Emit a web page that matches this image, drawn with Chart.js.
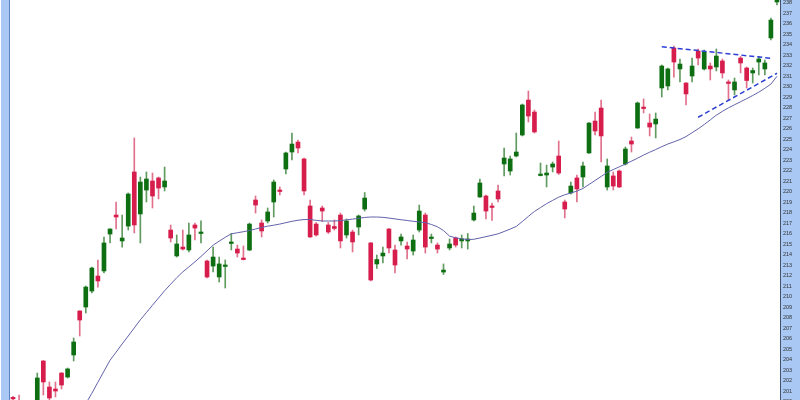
<!DOCTYPE html>
<html>
<head>
<meta charset="utf-8">
<script src="https://cdn.jsdelivr.net/npm/chart.js@4.4.0/dist/chart.umd.min.js"></script>
<style>
html, body { margin: 0; padding: 0; background: #fff; }
canvas { display: block; }
</style>
</head>
<body>
<canvas id="stockChart" width="800" height="400"></canvas>
<script>
// daily OHLC
const opens = [200.35, 200.0, 199.2, 199.5, 199.8, 203.86, 201.38, 201.19, 202.71, 202.33,
  204.43, 208.62, 209.0, 210.52, 211.95, 212.43, 215.95, 217.76, 215.29, 216.71,
  221.86, 217.86, 220.14, 221.0, 221.29, 220.43, 216.33, 213.86, 214.71, 214.43,
  216.81, 216.0, 213.38, 212.9, 211.86, 212.86, 215.05, 214.52, 213.62, 214.43,
  219.19, 217.0, 217.19, 219.0, 220.1, 222.14, 223.76, 224.71, 223.1, 218.62,
  216.9, 218.43, 216.81, 216.67, 217.76, 215.86, 216.14, 216.62, 218.33, 215.1,
  213.1, 213.86, 216.43, 214.43, 215.29, 214.81, 214.33, 216.33, 217.76, 215.52,
  214.9, 212.33, 214.62, 215.57, 215.29, 215.29, 217.29, 219.48, 219.57, 218.57,
  220.05, 222.62, 221.95, 223.38, 225.38, 228.71, 227.57, 221.52, 221.57, 222.33,
  223.38, 219.0, 219.86, 221.29, 221.38, 223.67, 226.71, 227.95, 220.43, 221.48,
  221.95, 222.62, 224.81, 226.05, 228.0, 226.52, 226.43, 229.86, 230.05, 233.67,
  231.67, 230.33, 231.0, 233.38, 231.67, 231.95, 231.86, 232.43, 230.43, 229.67,
  232.71, 231.76, 231.29, 232.33, 231.67, 234.62, 238.05];
const highs = [200.5, 200.6, 199.9, 200.0, 202.71, 203.9, 201.86, 201.86, 202.75, 203.19,
  206.05, 208.65, 211.0, 212.8, 213.48, 215.67, 216.45, 219.0, 217.76, 219.86,
  225.1, 221.38, 221.86, 221.76, 221.38, 222.33, 216.81, 215.86, 216.33, 217.0,
  217.0, 217.2, 213.48, 214.71, 213.76, 213.48, 216.0, 214.9, 214.81, 217.0,
  219.57, 217.29, 218.43, 221.1, 220.43, 223.76, 225.57, 224.9, 223.19, 219.19,
  217.05, 218.62, 217.05, 217.29, 217.95, 217.38, 216.33, 217.76, 219.9, 215.14,
  213.95, 214.71, 216.48, 214.9, 215.95, 215.19, 215.86, 218.71, 217.95, 215.95,
  215.1, 213.1, 215.48, 215.67, 215.86, 216.0, 218.62, 221.19, 219.67, 218.9,
  220.62, 224.14, 223.38, 225.57, 228.33, 229.57, 227.76, 222.71, 222.52, 222.81,
  224.81, 219.19, 220.9, 221.57, 222.81, 226.57, 227.57, 228.71, 223.1, 221.86,
  222.05, 224.24, 225.19, 228.52, 228.81, 227.38, 227.48, 232.05, 231.76, 233.86,
  232.62, 230.38, 232.71, 233.57, 233.48, 232.24, 233.57, 232.62, 230.62, 230.81,
  232.86, 231.86, 231.76, 232.86, 232.52, 236.52, 238.4];
const lows = [200.0, 199.3, 198.8, 199.0, 199.5, 200.62, 200.1, 200.43, 201.19, 202.24,
  203.86, 206.24, 208.43, 210.33, 210.9, 212.24, 215.1, 216.43, 214.71, 216.33,
  216.05, 215.1, 219.0, 218.43, 219.29, 220.05, 215.19, 213.76, 214.43, 214.24,
  215.38, 215.1, 211.76, 212.33, 211.38, 210.81, 214.43, 213.76, 213.48, 214.36,
  217.95, 215.67, 217.0, 217.57, 219.67, 221.67, 223.0, 223.67, 219.67, 215.62,
  215.76, 217.14, 216.0, 216.33, 214.62, 215.57, 214.24, 215.86, 218.14, 211.48,
  212.67, 213.19, 214.14, 212.24, 214.9, 213.57, 213.95, 216.14, 214.14, 215.1,
  214.14, 212.1, 214.43, 214.71, 214.62, 214.52, 217.19, 219.43, 217.38, 217.24,
  219.0, 221.48, 221.57, 223.29, 225.29, 226.62, 225.57, 221.48, 220.43, 221.86,
  221.62, 217.48, 219.76, 219.0, 220.43, 223.62, 225.38, 222.81, 220.14, 220.14,
  220.38, 222.52, 223.76, 226.0, 227.48, 225.29, 225.1, 229.0, 229.67, 230.9,
  230.43, 228.24, 230.43, 232.05, 231.57, 230.62, 231.48, 230.81, 228.71, 229.19,
  231.29, 229.86, 230.33, 231.1, 231.1, 234.43, 237.76];
const closes = [200.25, 199.6, 199.7, 199.8, 202.24, 201.86, 200.33, 201.0, 201.57, 203.1,
  205.67, 207.76, 210.9, 212.71, 211.48, 215.1, 216.43, 217.57, 215.57, 219.76,
  216.81, 220.9, 221.19, 219.57, 220.33, 221.0, 215.57, 215.0, 214.52, 215.86,
  216.52, 216.1, 211.86, 213.76, 213.1, 212.95, 215.15, 214.14, 213.52, 216.9,
  218.71, 216.24, 218.05, 220.9, 220.0, 223.67, 224.52, 224.14, 220.05, 215.67,
  215.86, 218.14, 216.14, 216.48, 215.29, 217.19, 215.19, 217.67, 219.38, 211.57,
  213.52, 214.14, 214.62, 213.0, 215.67, 214.52, 215.38, 218.14, 214.71, 215.62,
  214.52, 212.52, 215.0, 214.9, 215.48, 215.48, 217.95, 220.81, 218.14, 218.48,
  219.29, 223.19, 223.1, 223.76, 228.24, 227.19, 225.67, 221.62, 221.76, 222.62,
  221.76, 218.33, 220.52, 220.24, 222.43, 226.52, 225.76, 225.29, 222.43, 220.52,
  220.43, 224.05, 224.52, 228.43, 227.9, 226.14, 226.9, 231.95, 231.67, 232.33,
  232.14, 229.29, 231.95, 232.71, 233.29, 231.67, 232.9, 231.29, 230.29, 230.43,
  232.24, 230.57, 231.52, 232.62, 232.24, 236.33, 238.3];
// moving average (blank until it enters the window)
const ma = [null, null, null, null, null, null, null, null, null, null,
  null, null, 199.8, 200.78, 201.84, 202.89, 203.93, 204.7, 205.48, 206.24,
  207.01, 207.78, 208.47, 209.17, 209.86, 210.55, 211.17, 211.79, 212.34, 212.82,
  213.3, 213.81, 214.35, 214.89, 215.27, 215.64, 215.97, 216.07, 216.17, 216.29,
  216.43, 216.58, 216.7, 216.79, 216.9, 217.03, 217.16, 217.26, 217.33, 217.34,
  217.25, 217.19, 217.19, 217.19, 217.23, 217.3, 217.37, 217.45, 217.53, 217.57,
  217.57, 217.54, 217.47, 217.39, 217.31, 217.24, 217.16, 217.1, 217.03, 216.86,
  216.64, 216.28, 215.75, 215.59, 215.5, 215.42, 215.45, 215.57, 215.7, 215.83,
  215.97, 216.19, 216.42, 216.67, 217.14, 217.63, 218.1, 218.47, 218.84, 219.15,
  219.46, 219.69, 219.86, 220.03, 220.29, 220.67, 221.05, 221.43, 221.82, 222.09,
  222.35, 222.61, 222.89, 223.17, 223.47, 223.74, 224.0, 224.27, 224.52, 224.73,
  224.95, 225.23, 225.6, 225.97, 226.38, 226.82, 227.27, 227.63, 227.97, 228.26,
  228.55, 228.84, 229.14, 229.46, 229.83, 230.23, 230.97];
const days = opens.map((_, i) => String(i + 1));

// triangle lines: [start day index, value, end day index, value]
const upperLine = [107, 233.79, 125, 232.69];
const lowerLine = [113, 227.07, 126, 231.26];

const yTicks = [];
for (let v = 200; v <= 238; v++) yTicks.push(v);

const upColor = '#0e6e12';
const downColor = '#d61d4c';
const upWick = '#5f9a5f';
const downWick = '#e0708c';
const isUp = opens.map((o, i) => closes[i] >= o);

const framePlugin = {
    id: 'frame',
    beforeDraw(chart) {
        const c = chart.ctx;
        const right = chart.chartArea.right;
        c.save();
        c.fillStyle = '#fff';
        c.fillRect(0, 0, chart.width, chart.height);
        c.fillStyle = '#a9c8f4';
        c.fillRect(1, 0, 8, chart.height);
        c.fillRect(right, 0, chart.width - right, chart.height);
        c.fillStyle = '#5b84bf';
        c.fillRect(9, 0, 1, chart.height);
        c.restore();
    }
};

const trendPoints = (l) => [{x: days[l[0]], y: l[1]}, {x: days[l[2]], y: l[3]}];

const ctx = document.getElementById('stockChart').getContext('2d');
const stockChart = new Chart(ctx, {
    data: {
        labels: days,
        datasets: [{
            type: 'bar',
            label: 'wick',
            data: highs.map((h, i) => [lows[i], h]),
            backgroundColor: isUp.map(u => u ? upWick : downWick),
            barThickness: 1,
            grouped: false,
            order: 3
        }, {
            type: 'bar',
            label: 'body',
            data: opens.map((o, i) => [o, closes[i]]),
            backgroundColor: isUp.map(u => u ? upColor : downColor),
            barThickness: 4,
            minBarLength: 1.5,
            grouped: false,
            order: 2
        }, {
            type: 'line',
            label: 'MA',
            data: ma,
            borderColor: '#6262aa',
            borderWidth: 1,
            pointRadius: 0,
            fill: false,
            order: 1
        }, {
            type: 'line',
            label: 'upper',
            data: trendPoints(upperLine),
            borderColor: '#2c3ed4',
            borderWidth: 1.5,
            borderDash: [5, 3],
            pointRadius: 0,
            fill: false,
            order: 0
        }, {
            type: 'line',
            label: 'lower',
            data: trendPoints(lowerLine),
            borderColor: '#2c3ed4',
            borderWidth: 1.5,
            borderDash: [5, 3],
            pointRadius: 0,
            fill: false,
            order: 0
        }]
    },
    options: {
        responsive: false,
        animation: false,
        layout: { padding: { left: 10, right: 0, top: 0, bottom: 0 } },
        plugins: { legend: { display: false }, tooltip: { enabled: false } },
        scales: {
            x: { display: false, offset: true },
            y: {
                position: 'right',
                min: 238 - 397.5 / 10.5,
                max: 238 + 2.5 / 10.5,
                grid: { display: false, drawTicks: true, tickLength: 3 },
                border: { display: true, dash: [1, 1], color: '#44516a' },
                ticks: {
                    autoSkip: false,
                    padding: 0,
                    color: '#333',
                    font: { family: 'Liberation Sans', size: 5.5 }
                },
                afterBuildTicks(axis) {
                    axis.ticks = yTicks.map(v => ({ value: v }));
                },
                afterFit(axis) {
                    axis.width = 20;
                    axis.paddingTop = 0;
                    axis.paddingBottom = 0;
                }
            }
        }
    },
    plugins: [framePlugin]
});
</script>
</body>
</html>
